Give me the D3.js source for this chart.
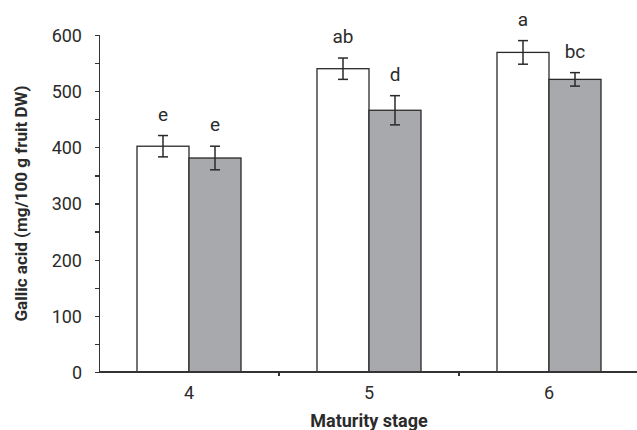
<!doctype html>
<html>
<head>
<meta charset="utf-8">
<script src="https://d3js.org/d3.v7.min.js"></script>
<style>
  body{margin:0;background:#fff;}
  svg text{font-family:'Liberation Sans Narrow','Roboto','DejaVu Sans Condensed',sans-serif;fill:#2b2b2b;}
  .axis path,.axis line{stroke:#333;stroke-width:1.2px;shape-rendering:crispEdges;}
</style>
</head>
<body>
<svg id="chart" width="637" height="430"></svg>
<script>
// data
var stages = ['4','5','6'];
var series = ['white','gray'];
var whiteMean = [402, 540, 569];
var whiteErr  = [19, 19, 21];
var grayMean  = [381, 466, 521];
var grayErr   = [21, 26, 12];
var whiteLetters = ['e','ab','a'];
var grayLetters  = ['e','d','bc'];
var yTicks = [0,100,200,300,400,500,600];

var W = 637, H = 430;
var mL = 99, mR = 639, mT = 35, mB = 372;
var svg = d3.select('#chart');

var x = d3.scaleBand().domain(stages).range([mL,mR]).padding(0);
var bw = 52;
var xSub = d3.scaleBand().domain(series)
  .range([x.bandwidth()/2 - bw, x.bandwidth()/2 + bw]).padding(0);
var y = d3.scaleLinear().domain([0,600]).range([mB,mT]);

// build rows
var rows = [];
stages.forEach(function(s,i){
  rows.push({stage:s, ser:'white', v:whiteMean[i], e:whiteErr[i], lab:whiteLetters[i]});
  rows.push({stage:s, ser:'gray', v:grayMean[i], e:grayErr[i], lab:grayLetters[i]});
});

// y axis
var yAxis = d3.axisLeft(y).tickValues(d3.range(0,601,50)).tickSize(4)
  .tickFormat(function(d){ return yTicks.indexOf(d)>=0 ? d : ''; });
var gy = svg.append('g').attr('class','axis').attr('transform','translate('+mL+',0)').call(yAxis);
gy.selectAll('text').style('font-size','18px').attr('x',-17).attr('dy','0.36em');

// bars
var g = svg.append('g');
g.selectAll('rect.bar').data(rows).enter().append('rect').attr('class','bar')
  .attr('x',function(d){ return x(d.stage)+xSub(d.ser); })
  .attr('width',xSub.bandwidth())
  .attr('y',function(d){ return y(d.v); })
  .attr('height',function(d){ return y(0)-y(d.v); })
  .attr('fill',function(d){ return d.ser=='white' ? '#ffffff' : '#a8a9ac'; })
  .attr('stroke','#2a2a2a').attr('stroke-width',1.3);

// error bars
var eb = g.selectAll('g.err').data(rows).enter().append('g').attr('class','err')
  .attr('transform',function(d){ return 'translate('+(x(d.stage)+xSub(d.ser)+xSub.bandwidth()/2)+',0)'; });
eb.append('line').attr('x1',0).attr('x2',0)
  .attr('y1',function(d){ return y(d.v+d.e); }).attr('y2',function(d){ return y(d.v-d.e); });
eb.append('line').attr('x1',-5).attr('x2',5)
  .attr('y1',function(d){ return y(d.v+d.e); }).attr('y2',function(d){ return y(d.v+d.e); });
eb.append('line').attr('x1',-5).attr('x2',5)
  .attr('y1',function(d){ return y(d.v-d.e); }).attr('y2',function(d){ return y(d.v-d.e); });
eb.selectAll('line').attr('stroke','#2a2a2a').attr('stroke-width',1.5);
eb.append('text').attr('text-anchor','middle').style('font-size','19px')
  .attr('y',function(d){ return y(d.v+d.e)-15; })
  .text(function(d){ return d.lab; });

// x axis
var xAxis = d3.axisBottom(x).tickSize(0).tickPadding(14);
var gx = svg.append('g').attr('class','axis').attr('transform','translate(0,'+mB+')').call(xAxis);
gx.select('path.domain').attr('d','M'+mL+',0H'+W);
gx.selectAll('text').style('font-size','18px');
gx.selectAll('line.sep').data(stages.slice(1)).enter().append('line').attr('class','sep')
  .attr('x1',function(d){ return x(d); }).attr('x2',function(d){ return x(d); })
  .attr('y1',0).attr('y2',4);

// titles
svg.append('text').attr('x',(mL+mR)/2).attr('y',427).attr('text-anchor','middle')
  .style('font-size','18px').style('font-weight','bold').text('Maturity stage');
svg.append('text').attr('transform','translate(27,'+((mT+mB)/2)+') rotate(-90)')
  .attr('text-anchor','middle').style('font-size','17px').style('font-weight','bold')
  .text('Gallic acid (mg/100 g fruit DW)');
</script>
</body>
</html>
